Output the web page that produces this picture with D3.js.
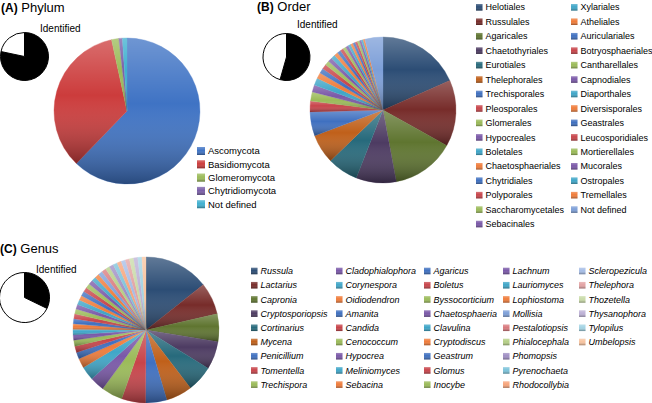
<!DOCTYPE html>
<html><head><meta charset="utf-8">
<script src="https://cdn.jsdelivr.net/npm/d3@7"></script>
<style>body{margin:0;background:#fff}svg{display:block;font-family:"Liberation Sans",Arial,Helvetica,sans-serif}</style>
</head><body><svg id="c" width="652" height="403"></svg>
<script>
// ---------- data ----------
const phylumNames = ["Ascomycota","Basidiomycota","Glomeromycota","Chytridiomycota","Not defined"];
const phylumShare = [62.2, 34.4, 1.6, 0.8, 1.0];

const orderNames = ["Helotiales","Russulales","Agaricales","Chaetothyriales","Eurotiales","Thelephorales",
  "Trechisporales","Pleosporales","Glomerales","Hypocreales","Boletales","Chaetosphaeriales",
  "Chytridiales","Polyporales","Saccharomycetales","Sebacinales","Xylariales","Atheliales",
  "Auriculariales","Botryosphaeriales","Cantharellales","Capnodiales","Diaporthales","Diversisporales",
  "Geastrales","Leucosporidiales","Mortierellales","Mucorales","Ostropales","Tremellales","Not defined"];
const orderShare = [18.4,14.7,14.0,8.9,6.8,6.5, 5.3,2.4,2.0,1.6,1.6,1.3,
  1.1,1.05,1.0,0.95,0.9,0.85, 0.8,0.72,0.67,0.61,0.58,0.56, 0.53,0.5,0.47,0.44,0.42,0.39, 4.0];

const genusNames = ["Russula","Lactarius","Capronia","Cryptosporiopsis","Cortinarius","Mycena","Penicillium","Tomentella","Trechispora",
  "Cladophialophora","Corynespora","Oidiodendron","Amanita","Candida","Cenococcum","Hypocrea","Meliniomyces","Sebacina",
  "Agaricus","Boletus","Byssocorticium","Chaetosphaeria","Clavulina","Cryptodiscus","Geastrum","Glomus","Inocybe",
  "Lachnum","Lauriomyces","Lophiostoma","Mollisia","Pestalotiopsis","Phialocephala","Phomopsis","Pyrenochaeta","Rhodocollybia",
  "Scleropezicula","Thelephora","Thozetella","Thysanophora","Tylopilus","Umbelopsis"];
const genusShare = [14.3,7.1,6.1,6.2,5.8,5.8,4.7,5.3,4.7,
  3.2,3.1,2.1,1.5,1.4,1.3,1.2,1.2,1.2,
  1.11,1.08,1.08,1.06,1.06,1.03,1.03,1.0,1.0,
  1.0,0.97,0.97,0.97,0.97,0.94,0.94,0.94,0.94,
  0.94,0.92,0.92,0.92,0.92,0.89];

const identifiedPhylum = [78.3, 21.7];
const identifiedOrder = [54.4, 45.6];
const identifiedGenus = [32.2, 67.8];

const phylumColors = ["#3f73c4","#cc3c3c","#9bbb59","#7b5fa8","#3fb0d0"];
const darkColors = ["#2c4d75","#772c2a","#5f7530","#4d3b62","#276a7c","#c0601a"];
const normalColors = ["#3f70c0","#c8444a","#9bbb59","#7a58a8","#3fa6c8","#f07c3a"];
const lightColors = ["#7d9fd8","#d97a7e","#b5cf86","#a08fc4","#7cc3da","#f7a47a"];
const lighterColors = ["#a6bde6","#e3a3a4","#c9dba8","#bdb1d6","#a4d4e4","#f8c4a0"];

// ---------- drawing ----------
const svg = d3.select("#c");
svg.append("rect").attr("width",652).attr("height",403).attr("fill","#fff");
const defs = svg.append("defs");
const g0 = defs.append("linearGradient").attr("id","shade").attr("x1",0).attr("y1",0).attr("x2",0).attr("y2",1);
g0.append("stop").attr("offset","0").attr("stop-color","#fff").attr("stop-opacity",0.25);
g0.append("stop").attr("offset","0.45").attr("stop-color","#fff").attr("stop-opacity",0);
g0.append("stop").attr("offset","1").attr("stop-color","#000").attr("stop-opacity",0.36);

function cycleColor(i){
  if(i<6) return darkColors[i];
  if(i<30) return normalColors[i%6];
  if(i<36) return lightColors[i%6];
  return lighterColors[i%6];
}

const pie = d3.pie().sort(null).startAngle(0).endAngle(2*Math.PI);

function bigPie(cx, cy, r, values, colorFn){
  const arc = d3.arc().innerRadius(0).outerRadius(r);
  const g = svg.append("g").attr("transform",`translate(${cx},${cy})`);
  const arcs = pie(values);
  g.selectAll("path.s").data(arcs).join("path").attr("class","s")
    .attr("d",arc).attr("fill",(d,i)=>colorFn(i))
    .attr("stroke",(d,i)=>colorFn(i)).attr("stroke-width",0.3);
  g.selectAll("path.o").data(arcs).join("path").attr("class","o")
    .attr("d",arc).attr("fill","url(#shade)");
}

function smallPie(cx, cy, r, values, labelX, labelY){
  const arc = d3.arc().innerRadius(0).outerRadius(r);
  const g = svg.append("g").attr("transform",`translate(${cx},${cy})`);
  g.selectAll("path").data(pie(values)).join("path")
    .attr("d",arc).attr("fill",(d,i)=>i===0?"#000":"#fff")
    .attr("stroke","#000").attr("stroke-width",1);
  svg.append("text").attr("x",labelX).attr("y",labelY).attr("font-size",10).text("Identified");
}

function title(x, y, letter, word){
  const t = svg.append("text").attr("x",x).attr("y",y).attr("font-size",13);
  t.append("tspan").attr("font-weight","bold").attr("font-size",12).text(letter);
  t.append("tspan").text(" "+word);
}

function legendCol(names, startIdx, sx, y0, step, size, fontSize, italic, colorFn){
  const g = svg.append("g");
  names.forEach((n,k)=>{
    const i = startIdx + k;
    const y = y0 + step*k;
    g.append("rect").attr("x",sx).attr("y",y-size/2).attr("width",size).attr("height",size).attr("fill",colorFn(i));
    g.append("rect").attr("x",sx).attr("y",y-size/2).attr("width",size).attr("height",size).attr("fill","url(#shade)");
    g.append("text").attr("x",sx+size+3).attr("y",y).attr("dy","0.35em")
      .attr("font-size",fontSize).attr("font-style",italic?"italic":"normal").text(n);
  });
}

// Panel A
title(1, 12, "(A)", "Phylum");
smallPie(24.5, 56.5, 24, identifiedPhylum, 40, 32);
bigPie(127, 111, 73, phylumShare, i=>phylumColors[i]);
legendCol(phylumNames, 0, 197, 151, 13.3, 8, 9.5, false, i=>phylumColors[i]);

// Panel B
title(257, 11, "(B)", "Order");
smallPie(286.5, 57, 23.5, identifiedOrder, 297, 28);
bigPie(383, 110, 73, orderShare, cycleColor);
legendCol(orderNames.slice(0,16), 0, 476, 7.3, 14.45, 6.5, 9, false, cycleColor);
legendCol(orderNames.slice(16), 16, 571, 7.3, 14.45, 6.5, 9, false, cycleColor);

// Panel C
title(0, 253, "(C)", "Genus");
smallPie(24.5, 297.5, 25, identifiedGenus, 36, 273);
bigPie(146, 330, 73, genusShare, cycleColor);
const gcols = [251, 336, 424, 503, 579];
[[0,9],[9,18],[18,27],[27,36],[36,42]].forEach((rg,c)=>{
  legendCol(genusNames.slice(rg[0],rg[1]), rg[0], gcols[c], 271, 14.2, 6.5, 9, true, cycleColor);
});
</script>
</body></html>
